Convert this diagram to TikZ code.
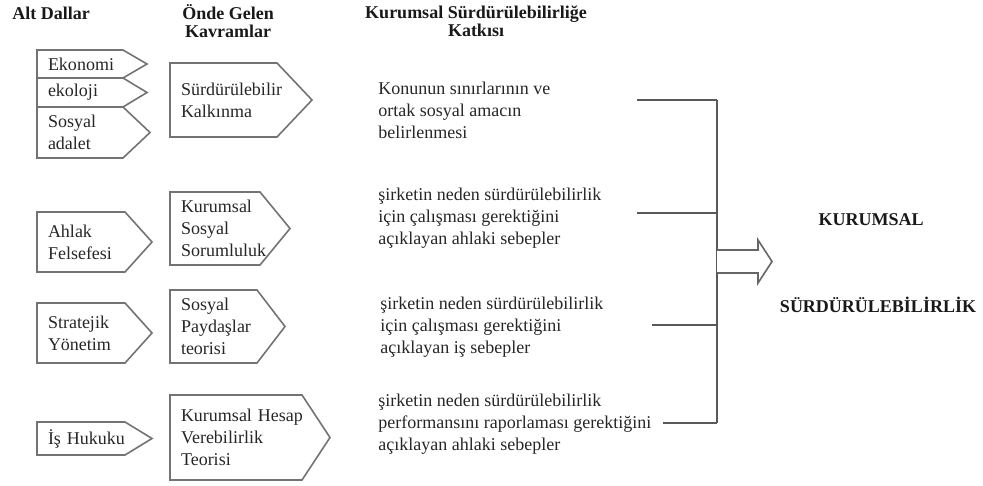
\documentclass[tikz,border=0pt]{standalone}
\usepackage{fontspec}
\setmainfont{Liberation Serif}
\usetikzlibrary{positioning}

\newcommand{\govde}{\fontsize{9}{11}\selectfont}
\newcommand{\kalin}{\fontsize{9}{9}\selectfont\bfseries}
% pentagon round a node: body width, tip position
\newcommand{\besgen}[3]{%
  \draw[kenar] (#1.north west) -- ([xshift=#2]#1.north west)
    -- ([xshift=#3]#1.west) -- ([xshift=#2]#1.south west)
    -- (#1.south west) -- cycle;}

\begin{document}
\begin{tikzpicture}[
    x=0.5pt, y=-0.5pt,
    kenar/.style={draw=black!55, line width=0.8pt, line join=miter},
    dal/.style={anchor=north west, align=left, text width=75pt, inner xsep=5.5pt,
                inner ysep=0pt, outer sep=0pt, font=\govde, text=black!85},
    baslik/.style={font=\kalin, text=black!90, inner sep=0pt},
    metin/.style={anchor=base west, align=left, inner sep=0pt, font=\govde, text=black!85},
    hat/.style={draw=black!65, line width=0.8pt},
    blokok/.style={draw=black!60, line width=0.8pt, fill=white}
]
   \useasboundingbox (0,0) rectangle (983,486);

   % Headings (base = last line)
   \node[baslik, anchor=base west] (altdal) at (12,20) {Alt Dallar};
   \node[baslik, anchor=base, align=center] (onde) at (228,38) {Önde Gelen\\Kavramlar};
   \node[baslik, anchor=base, align=center] (katki) at (476,37) {Kurumsal Sürdürülebilirliğe\\Katkısı};

   % Alt Dallar
   \node[dal, minimum height=14pt] (ekonomi) at (37,50) {Ekonomi};
   \node[dal, minimum height=14.5pt, below=0pt of ekonomi.south west, anchor=north west] (ekoloji) {ekoloji};
   \node[dal, minimum height=25.5pt, below=0pt of ekoloji.south west, anchor=north west] (adalet) {Sosyal\\adalet};
   \node[dal, minimum height=30pt] (ahlak) at (37,212) {Ahlak\\Felsefesi};
   \node[dal, minimum height=30pt] (strateji) at (37,303) {Stratejik\\Yönetim};
   \node[dal, minimum height=16.5pt] (hukuk) at (37,422) {İş Hukuku};

   \besgen{ekonomi}{43pt}{55pt}
   \besgen{ekoloji}{43pt}{55pt}
   \besgen{adalet}{43pt}{56.5pt}
   \besgen{ahlak}{44pt}{57.5pt}
   \besgen{strateji}{44pt}{57.5pt}
   \besgen{hukuk}{44pt}{57.5pt}

   % Onde gelen kavramlar
   \node[dal, minimum height=37pt] (kalkinma) at (170,63) {Sürdürülebilir\\Kalkınma};
   \node[dal, minimum height=36.5pt] (kss) at (170,192) {Kurumsal\\Sosyal\\Sorumluluk};
   \node[dal, minimum height=36.5pt] (paydas) at (170,290) {Sosyal\\Paydaşlar\\teorisi};
   \node[dal, minimum height=42.5pt] (hesap) at (170,395) {Kurumsal Hesap\\Verebilirlik\\Teorisi};

   \besgen{kalkinma}{53.5pt}{71pt}
   \besgen{kss}{45pt}{60pt}
   \besgen{paydas}{43.5pt}{57.5pt}
   \besgen{hesap}{66pt}{80pt}

   % Katki metinleri (base = last line)
   \node[metin] (katki1) at (378,139) {Konunun sınırlarının ve\\ortak sosyal amacın\\belirlenmesi};
   \node[metin] (katki2) at (378,244) {şirketin neden sürdürülebilirlik\\için çalışması gerektiğini\\açıklayan ahlaki sebepler};
   \node[metin] (katki3) at (380,353) {şirketin neden sürdürülebilirlik\\için çalışması gerektiğini\\açıklayan iş sebepler};
   \node[metin] (katki4) at (378,450) {şirketin neden sürdürülebilirlik\\performansını raporlaması gerektiğini\\açıklayan ahlaki sebepler};

   \coordinate (c1) at (637,100);
   \coordinate (c2) at (637,213);
   \coordinate (c3) at (652,325);
   \coordinate (c4) at (663,423);
   \coordinate (bar) at (717,100);
   \coordinate (ok) at (717,261.5);

   % Baglantilar
   \path[hat]
   (c1) edge (c1 -| bar)
   (c2) edge (c2 -| bar)
   (c3) edge (c3 -| bar)
   (c4) edge (c4 -| bar)
   (c1 -| bar) edge (c4 -| bar);

   \draw[blokok] (ok) ++(0,-11.5) -- ++(41,0) -- ++(0,-10) -- ++(14,21.5)
     -- ++(-14,21.5) -- ++(0,-10) -- ++(-41,0);

   \node[baslik, anchor=base] (kurumsal) at (871,225) {KURUMSAL};
   \node[baslik, anchor=base] (surdur) at (878,312) {SÜRDÜRÜLEBİLİRLİK};

\end{tikzpicture}
\end{document}
